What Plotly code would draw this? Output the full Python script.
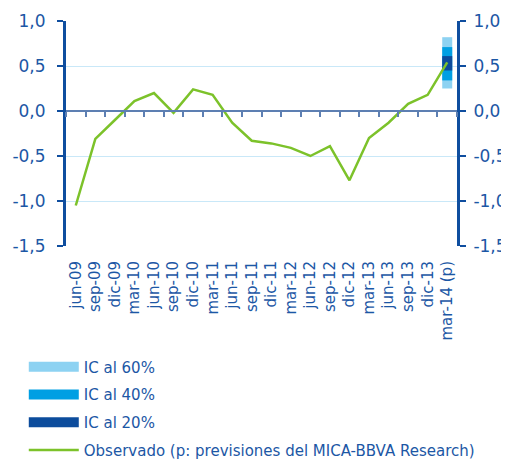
import plotly.graph_objects as go

categories = ["jun-09", "sep-09", "dic-09", "mar-10", "jun-10", "sep-10", "dic-10",
              "mar-11", "jun-11", "sep-11", "dic-11", "mar-12", "jun-12", "sep-12",
              "dic-12", "mar-13", "jun-13", "sep-13", "dic-13", "mar-14 (p)"]
observado = [-1.05, -0.31, -0.10, 0.11, 0.20, -0.02, 0.24, 0.18, -0.13, -0.33,
             -0.36, -0.41, -0.50, -0.39, -0.77, -0.30, -0.13, 0.08, 0.18, 0.54]
forecast_cat = "mar-14 (p)"
ic60 = [0.25, 0.82]
ic40 = [0.34, 0.71]
ic20 = [0.45, 0.61]
yticks = [1.0, 0.5, 0.0, -0.5, -1.0, -1.5]
ytick_labels = ["1,0", "0,5", "0,0", "-0,5", "-1,0", "-1,5"]

TXT = "#1C57A5"
AX = "#0F4E9F"
GRID = "#C9E8F8"
ZL = "#5D7FB2"

fig = go.Figure()
bands = [("IC al 60%", ic60, "#8DD2F2"), ("IC al 40%", ic40, "#009FE3"), ("IC al 20%", ic20, "#0C4C9C")]
for i, (name, vals, color) in enumerate(bands):
    fig.add_trace(go.Scatter(x=[forecast_cat, forecast_cat], y=vals, mode="lines",
                             line=dict(color=color, width=10), name=name,
                             legendgroup="g%d" % i, hoverinfo="skip"))
fig.add_trace(go.Scatter(x=categories, y=observado, mode="lines",
                         line=dict(color="#7CC22A", width=2.5),
                         name="Observado (p: previsiones del MICA-BBVA Research)",
                         legendgroup="g3"))
# helper (invisible) trace to activate the secondary axes
fig.add_trace(go.Scatter(x=categories, y=observado, mode="lines", line=dict(width=0),
                         opacity=0, xaxis="x2", yaxis="y2", showlegend=False, hoverinfo="skip"))

yax = dict(range=[-1.5, 1.0], tickmode="array", tickvals=yticks, ticktext=ytick_labels,
           showline=True, linewidth=3, linecolor=AX, ticks="outside", ticklen=6,
           tickwidth=2, tickcolor=AX, showgrid=True, gridcolor=GRID, gridwidth=1,
           zeroline=False, tickfont=dict(size=17, color=TXT), fixedrange=True,
           automargin=False)

# the page body has an 8px default margin, so the figure is sized to fit the 509x464 window
fig.update_layout(
    width=501, height=456,
    margin=dict(l=58, r=52, t=13, b=218, autoexpand=False),
    paper_bgcolor="white", plot_bgcolor="white",
    separators=",.",
    font=dict(family="DejaVu Sans", size=15, color=TXT),
    showlegend=True,
    legend=dict(xref="container", yref="container", x=0.0315, y=0.249,
                xanchor="left", yanchor="top", orientation="v",
                traceorder="grouped", tracegroupgap=5.3, itemwidth=50,
                font=dict(size=15, color=TXT), bgcolor="rgba(0,0,0,0)"),
    xaxis=dict(type="category", categoryorder="array", categoryarray=categories,
               range=[-0.5, 19.5], showline=False, showgrid=False, ticks="",
               tickangle=-90, tickfont=dict(size=15, color=TXT), zeroline=False,
               ticklabelstandoff=11, automargin=False),
    xaxis2=dict(overlaying="x", anchor="free", position=0.6, type="category",
                categoryorder="array", categoryarray=categories, range=[-0.5, 19.5],
                showline=True, linecolor=ZL, linewidth=1.5, ticks="outside", ticklen=5,
                tickwidth=1.5, tickcolor=ZL, tickson="boundaries", showticklabels=False,
                showgrid=False, zeroline=False, automargin=False),
    yaxis=dict(**yax, side="left", ticklabelstandoff=8),
    yaxis2=dict(**yax, side="right", overlaying="y", anchor="x", ticklabelstandoff=4),
)

fig.write_html("out.html")
